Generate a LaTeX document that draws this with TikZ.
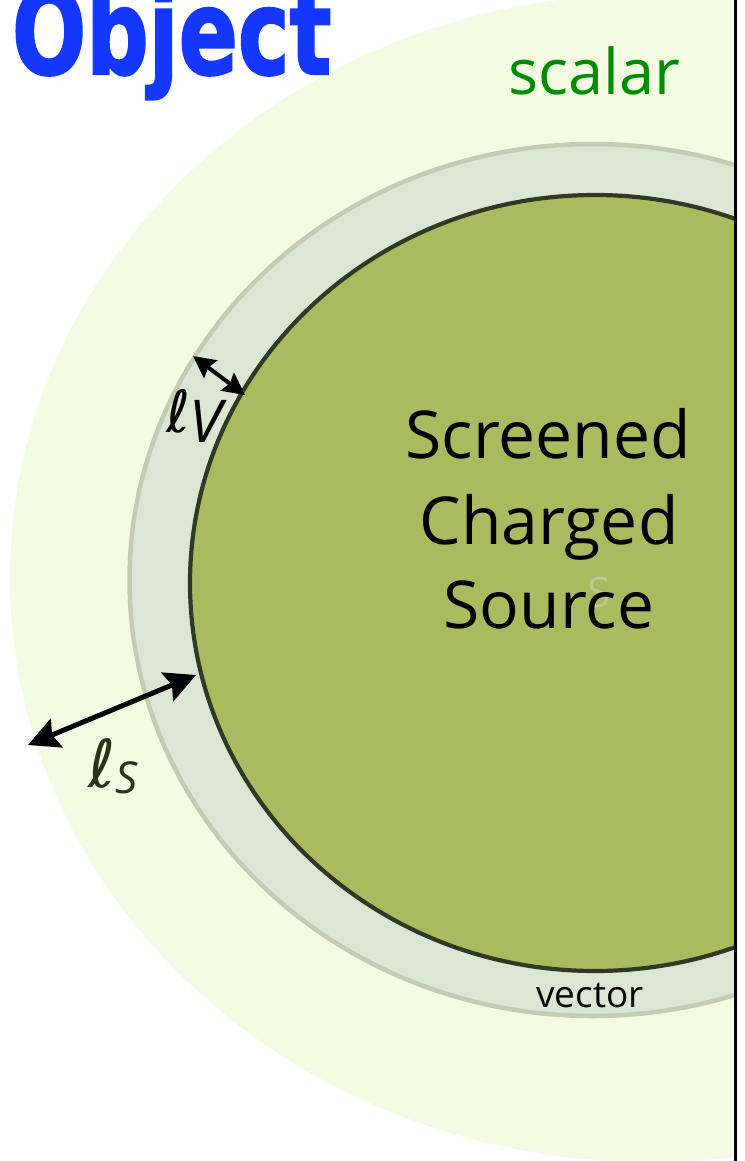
\documentclass[tikz,border=0pt]{standalone}
\usepackage{fontspec}
\setmainfont{Open Sans}
\newfontfamily\titlefont{DejaVu Sans}[BoldFeatures={FakeBold=2}]
\newfontfamily\ellfont{DejaVu Sans}
\usetikzlibrary{arrows.meta}
\definecolor{scalarbg}{RGB}{243,252,227}
\definecolor{ringfill}{RGB}{220,230,213}
\definecolor{ringline}{RGB}{196,204,180}
\definecolor{corefill}{RGB}{170,187,95}
\definecolor{coreline}{RGB}{47,58,36}
\definecolor{scalargreen}{RGB}{0,140,0}
\definecolor{titleblue}{RGB}{20,56,255}
\definecolor{ellS}{RGB}{42,51,24}
\definecolor{ghost}{RGB}{192,202,146}
\tikzset{
  lbl/.style={inner sep=0pt, outer sep=0pt},
  bigtext/.style={lbl, anchor=base, font=\fontsize{66}{80}\selectfont},
  dimV/.style={line width=4pt, {Stealth[length=22pt,width=22pt,inset=3pt]}-{Stealth[length=22pt,width=22pt,inset=3pt]}},
  dimS/.style={line width=5pt, {Stealth[length=31pt,width=31pt,inset=5pt]}-{Stealth[length=31pt,width=31pt,inset=5pt]}}
}
\begin{document}
\begin{tikzpicture}[x=1pt,y=-1pt]
\useasboundingbox (0,0) rectangle (744,1161);
\fill[white] (0,0) rectangle (744,1161);
\begin{scope}
  \clip (0,0) rectangle (735,1161);
  \fill[scalarbg] (650,578) ellipse [x radius=640, y radius=584];
  \filldraw[fill=ringfill, draw=ringline, line width=4.5pt] (592.5,580) ellipse [x radius=463, y radius=436];
  \filldraw[fill=corefill, draw=coreline, line width=4.2pt] (595,583) ellipse [x radius=405, y radius=388];
  \node[lbl, anchor=base west, text=titleblue, xscale=0.74, font=\titlefont\bfseries\fontsize{118}{120}\selectfont] (title) at (12,74) {Object};
\end{scope}
\draw[black, line width=2.3pt] (735.5,0) -- (735.5,1161);

\node[lbl, anchor=base, text=scalargreen, font=\fontsize{63}{70}\selectfont] (scalar) at (594,95) {scalar};

\node[lbl, text=ghost, font=\fontsize{42}{48}\selectfont] (ghostS) at (599,592) {S};
\node[bigtext] (line1) at (548,458) {Screened};
\node[bigtext] (line2) at (549,544) {Charged};
\node[bigtext] (line3) at (549,628) {Source};

\node[lbl, anchor=base, font=\fontsize{37}{44}\selectfont] (vector) at (590,1007) {vector};

\node[lbl, anchor=base west] (ellV) at (166,432) {{\ellfont\itshape\fontsize{58}{60}\selectfont ℓ}\raisebox{-10pt}{\itshape\fontsize{59}{60}\selectfont V}};
\node[lbl, anchor=base west, text=ellS] (ellSlab) at (88,787) {{\ellfont\itshape\fontsize{66}{70}\selectfont ℓ}\raisebox{-6pt}{\itshape\fontsize{44}{50}\selectfont S}};

\coordinate (vA) at (193,356);
\coordinate (vB) at (245,395);
\draw[dimV] (vA) -- (vB);
\coordinate (sA) at (28,745);
\coordinate (sB) at (196,675);
\draw[dimS] (sA) -- (sB);
\end{tikzpicture}
\end{document}
